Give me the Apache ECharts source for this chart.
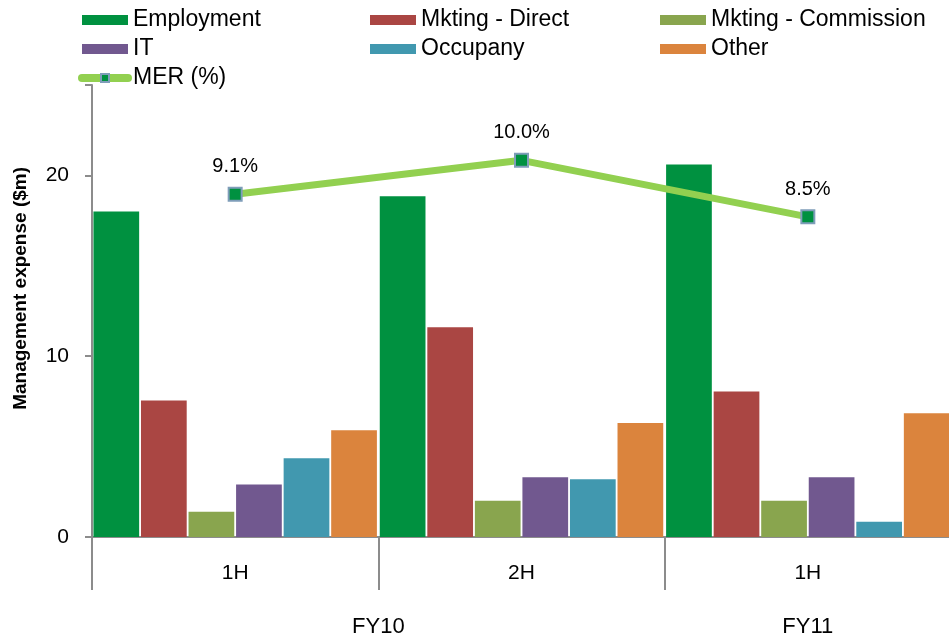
<!DOCTYPE html>
<html>
<head>
<meta charset="utf-8">
<script src="https://cdn.jsdelivr.net/npm/echarts@6/dist/echarts.min.js"></script>
<style>html,body{margin:0;padding:0;background:#fff;overflow:hidden}#c{width:953px;height:642px}</style>
</head>
<body>
<div id="c"></div>
<script>
var categories = ['1H', '2H', '1H'];
var fyLabels = ['FY10', 'FY11'];
var employment = [18.0, 18.85, 20.6];
var mktDirect = [7.55, 11.6, 8.05];
var mktCommission = [1.4, 2.0, 2.0];
var itCost = [2.9, 3.3, 3.3];
var occupancy = [4.35, 3.2, 0.85];
var other = [5.9, 6.3, 6.85];
var mer = [9.1, 10.0, 8.5];

var FONT = '"Liberation Sans", Arial, sans-serif';
var chart = echarts.init(document.getElementById('c'));

function barSeries(name, data, color) {
  return {
    name: name, type: 'bar', data: data, xAxisIndex: 0, yAxisIndex: 0,
    barGap: '4%', barCategoryGap: '1%',
    itemStyle: { color: color }
  };
}

var legendBase = {
  orient: 'vertical', itemWidth: 46, itemHeight: 10, itemGap: 5, top: 3,
  textStyle: { fontFamily: FONT, fontSize: 23, color: '#000', lineHeight: 24 },
  selectedMode: false
};
function li(name) { return { name: name, icon: 'rect' }; }

chart.setOption({
  animation: false,
  textStyle: { fontFamily: FONT },
  legend: [
    Object.assign({}, legendBase, { left: 73, data: [li('Employment'), li('IT'),
      { name: 'MER (%)', lineStyle: { width: 8, cap: 'round', color: '#92D050' } }] }),
    Object.assign({}, legendBase, { left: 365, data: [li('Mkting - Direct'), li('Occupany')] }),
    Object.assign({}, legendBase, { left: 655, data: [li('Mkting - Commission'), li('Other')] })
  ],
  grid: { left: 92, right: 2, top: 85, bottom: 105, containLabel: false },
  xAxis: [
    {
      type: 'category', data: categories, position: 'bottom',
      axisLine: { lineStyle: { color: '#8c8c8c', width: 2 } },
      axisTick: { show: true, length: 53, lineStyle: { color: '#8c8c8c', width: 2 } },
      axisLabel: { fontSize: 21, color: '#000', margin: 26, fontFamily: FONT }
    },
    {
      type: 'value', min: 0, max: 3, position: 'bottom', offset: 55,
      axisLine: { show: false },
      splitLine: { show: false },
      axisTick: { show: true, customValues: [0, 2], length: 50, lineStyle: { color: '#8c8c8c', width: 2 } },
      axisLabel: {
        customValues: [1, 2.5], fontSize: 22, color: '#000', margin: 24, fontFamily: FONT,
        formatter: function (v) { return v === 1 ? fyLabels[0] : fyLabels[1]; }
      }
    }
  ],
  yAxis: [
    {
      type: 'value', min: 0, max: 25, interval: 10,
      axisLine: { show: true, lineStyle: { color: '#8c8c8c', width: 2 } },
      axisTick: { show: true, length: 7, lineStyle: { color: '#8c8c8c', width: 2 } },
      splitLine: { show: false },
      axisLabel: { fontSize: 21, color: '#000', margin: 23, fontFamily: FONT,
        formatter: function (v) { return v % 10 === 0 ? String(v) : ''; } }
    },
    {
      type: 'value', min: 0, max: 12, show: false, splitLine: { show: false }
    }
  ],
  graphic: [{
    type: 'text', left: 11, top: 167, rotation: Math.PI / 2,
    style: { text: 'Management expense ($m)', font: 'bold 19px ' + FONT, fill: '#000' }
  }],
  series: [
    barSeries('Employment', employment, '#009140'),
    barSeries('Mkting - Direct', mktDirect, '#AA4643'),
    barSeries('Mkting - Commission', mktCommission, '#89A54E'),
    barSeries('IT', itCost, '#71588F'),
    barSeries('Occupany', occupancy, '#4198AF'),
    barSeries('Other', other, '#DB843D'),
    {
      name: 'MER (%)', type: 'line', data: mer, xAxisIndex: 0, yAxisIndex: 1,
      symbol: 'rect', symbolSize: 13,
      lineStyle: { color: '#92D050', width: 7 },
      itemStyle: { color: '#009140', borderColor: '#7F9DB9', borderWidth: 2 },
      label: { show: true, position: 'top', distance: 10, fontSize: 20, color: '#000', fontFamily: FONT,
        formatter: function (p) { return p.value.toFixed(1) + '%'; } },
      z: 10
    }
  ]
});
</script>
</body>
</html>
